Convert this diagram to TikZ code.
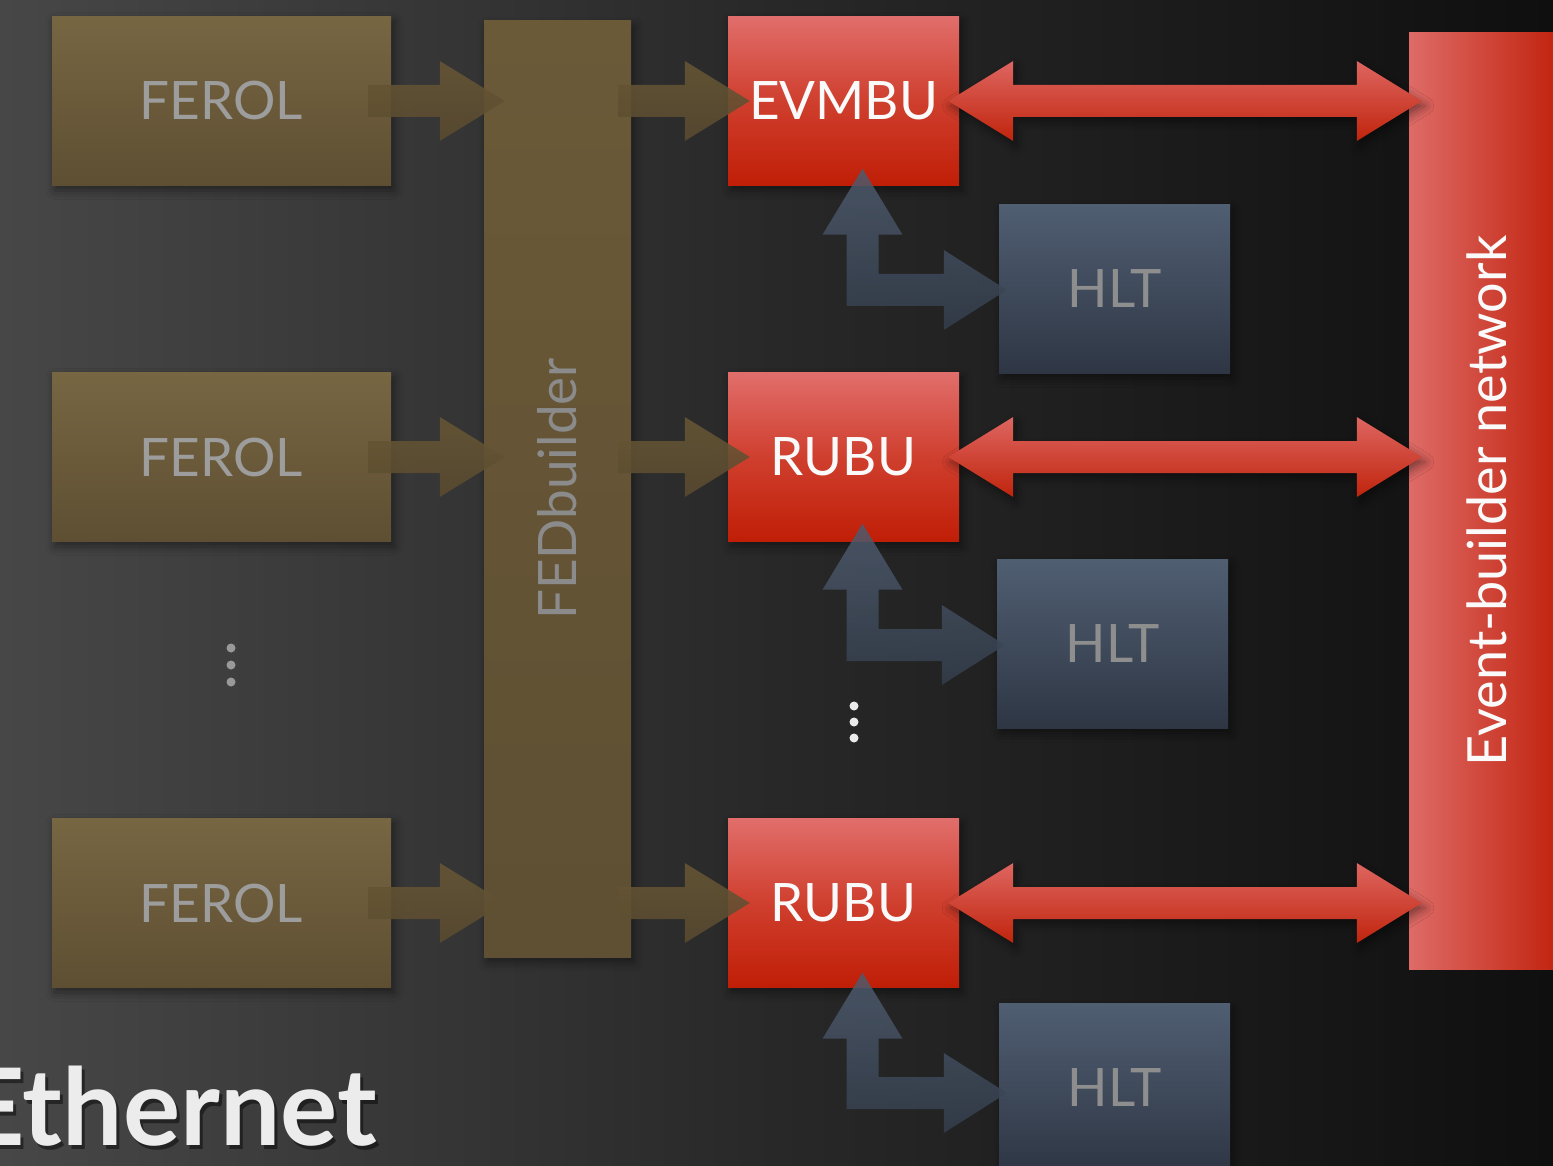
\documentclass[tikz,border=0pt]{standalone}
\usepackage{fontspec}
\setmainfont{Lato}
\usetikzlibrary{calc,shadows.blur}

\definecolor{bgL}{HTML}{474747}
\definecolor{bgM}{HTML}{282828}
\definecolor{bgR}{HTML}{0F0F0F}
\definecolor{goldA}{HTML}{776642}
\definecolor{goldB}{HTML}{5E4F33}
\definecolor{barA}{HTML}{6A5A38}
\definecolor{barB}{HTML}{5F4F33}
\definecolor{garrA}{HTML}{685735}
\definecolor{garrB}{HTML}{5A4B30}
\definecolor{redA}{HTML}{E16E6B}
\definecolor{redM}{HTML}{CF3F2E}
\definecolor{redB}{HTML}{C01E06}
\definecolor{rarrA}{HTML}{DE6661}
\definecolor{rarrB}{HTML}{C0240C}
\definecolor{netL}{HTML}{DE6B67}
\definecolor{netR}{HTML}{C0200A}
\definecolor{hltA}{HTML}{505E72}
\definecolor{hltB}{HTML}{2E3644}
\definecolor{barrA}{HTML}{4F5C6F}
\definecolor{barrB}{HTML}{343E4C}
\definecolor{ferolText}{HTML}{9D9D9D}
\definecolor{fedText}{HTML}{8B8B8B}
\definecolor{hltText}{HTML}{8E8E8E}
\definecolor{lightText}{HTML}{FAFAFA}
\definecolor{ethText}{HTML}{ECECEC}

\tikzset{
  softshadow/.style={blur shadow={shadow xshift=3pt, shadow yshift=-5pt,
      shadow blur radius=9pt, shadow opacity=45}},
  unit/.style={minimum width=231pt, minimum height=169pt, inner sep=0pt,
      font=\fontsize{53}{60}\selectfont, softshadow},
  ferolbox/.style={unit, minimum width=339pt, top color=goldA, bottom color=goldB,
      text=ferolText},
  fedbar/.style={minimum width=147pt, minimum height=936pt, inner sep=0pt,
      top color=barA, bottom color=barB, text=fedText,
      font=\fontsize{53}{60}\selectfont, softshadow},
  redbox/.style={unit, top color=redA, bottom color=redB, middle color=redM,
      text=lightText},
  hltbox/.style={unit, top color=hltA, bottom color=hltB, text=hltText},
  netbar/.style={minimum width=156pt, minimum height=936pt, inner sep=0pt,
      left color=netL, right color=netR, text=lightText,
      font=\fontsize{54}{60}\selectfont},
  goldarrow/.style={top color=garrA, bottom color=garrB, fill opacity=0.88},
  redarrow/.style={top color=rarrA, bottom color=rarrB, softshadow},
  bluearrow/.style={top color=barrA, bottom color=barrB, fill opacity=0.85},
  titletext/.style={anchor=base east, inner sep=0pt,
      font=\fontsize{107}{120}\selectfont\bfseries},
}

% single-headed block arrow, horizontal, from tail to tip
\newcommand\hfat[3]{%
  \path[#1] let \p1=(#2), \p2=(#3) in
    (\x1,\y2+16pt) -- (\x2-65pt,\y2+16pt) -- (\x2-65pt,\y2+40pt) -- (\x2,\y2)
    -- (\x2-65pt,\y2-40pt) -- (\x2-65pt,\y2-16pt) -- (\x1,\y2-16pt) -- cycle;}

% double-headed block arrow, horizontal, between two tips
\newcommand\dfat[3]{%
  \path[#1] let \p1=(#2), \p2=(#3) in
    (\x1,\y1) -- (\x1+65pt,\y1+40pt) -- (\x1+65pt,\y1+16pt)
    -- (\x2-65pt,\y1+16pt) -- (\x2-65pt,\y1+40pt) -- (\x2,\y1)
    -- (\x2-65pt,\y1-40pt) -- (\x2-65pt,\y1-16pt)
    -- (\x1+65pt,\y1-16pt) -- (\x1+65pt,\y1-40pt) -- cycle;}

% L-shaped double-headed block arrow: upward tip #2, rightward tip #3
\newcommand\lfat[3]{%
  \path[#1] let \p1=(#2), \p2=(#3) in
    (\x1,\y1) -- (\x1+40pt,\y1-66pt) -- (\x1+16pt,\y1-66pt)
    -- (\x1+16pt,\y2+16pt) -- (\x2-63pt,\y2+16pt) -- (\x2-63pt,\y2+40pt)
    -- (\x2,\y2) -- (\x2-63pt,\y2-40pt) -- (\x2-63pt,\y2-16pt)
    -- (\x1-16pt,\y2-16pt) -- (\x1-16pt,\y1-66pt) -- (\x1-40pt,\y1-66pt) -- cycle;}

\begin{document}
\begin{tikzpicture}[x=1pt,y=-1pt]
\useasboundingbox (0,0) rectangle (1553,1166);
\clip (0,0) rectangle (1553,1166);

% backdrop
\shade[left color=bgL, right color=bgR, middle color=bgM] (0,0) rectangle (1553,1166);

% front-end readout links
\node[ferolbox] (ferol1) at (221.5,101) {FEROL};
\node[ferolbox] (ferol2) at (221.5,457) {FEROL};
\node[ferolbox] (ferol3) at (221.5,903) {FEROL};
\fill[gray!80] (231,648) circle[radius=4.5pt] (231,665) circle[radius=4.5pt] (231,682) circle[radius=4.5pt];

% FED builder
\node[fedbar] (fed) at (557.5,489) {\rotatebox{90}{FEDbuilder}};

% builder units and filter farm
\node[redbox] (evmbu) at (843.5,101) {EVMBU};
\node[redbox] (rubu1) at (843.5,457) {RUBU};
\node[redbox] (rubu2) at (843.5,903) {RUBU};
\node[hltbox] (hlt1) at (1114.5,289) {HLT};
\node[hltbox] (hlt2) at (1112.5,644) {HLT};
\node[hltbox] (hlt3) at (1114.5,1088) {HLT};
\fill[white!92!black] (854,706) circle[radius=4.5pt] (854,722) circle[radius=4.5pt] (854,738) circle[radius=4.5pt];

% event-builder network
\node[netbar] (net) at (1487,501) {\rotatebox{90}{Event-builder network}};

% FEROL -> FEDbuilder
\hfat{goldarrow}{$(ferol1.east)+(-23,0)$}{$(fed.west|-ferol1.east)+(21,0)$}
\hfat{goldarrow}{$(ferol2.east)+(-23,0)$}{$(fed.west|-ferol2.east)+(21,0)$}
\hfat{goldarrow}{$(ferol3.east)+(-23,0)$}{$(fed.west|-ferol3.east)+(21,0)$}

% FEDbuilder -> builder units
\hfat{goldarrow}{$(fed.east|-evmbu.west)+(-13,0)$}{$(evmbu.west)+(22,0)$}
\hfat{goldarrow}{$(fed.east|-rubu1.west)+(-13,0)$}{$(rubu1.west)+(22,0)$}
\hfat{goldarrow}{$(fed.east|-rubu2.west)+(-13,0)$}{$(rubu2.west)+(22,0)$}

% builder units <-> event-builder network
\dfat{redarrow}{$(evmbu.east)+(-11,0)$}{$(net.west|-evmbu.east)+(13,0)$}
\dfat{redarrow}{$(rubu1.east)+(-11,0)$}{$(net.west|-rubu1.east)+(13,0)$}
\dfat{redarrow}{$(rubu2.east)+(-11,0)$}{$(net.west|-rubu2.east)+(13,0)$}

% builder units <-> HLT
\lfat{bluearrow}{$(evmbu.south)+(19,-17)$}{$(hlt1.west)+(8,1)$}
\lfat{bluearrow}{$(rubu1.south)+(19,-18)$}{$(hlt2.west)+(8,1)$}
\lfat{bluearrow}{$(rubu2.south)+(19,-15)$}{$(hlt3.west)+(8,5)$}

% title with its soft drop shadow
\node[titletext, text=black, text opacity=0.45] (ethshadow) at (380,1149) {Ethernet};
\node[titletext, text=ethText] (eth) at (377,1145) {Ethernet};
\end{tikzpicture}
\end{document}
